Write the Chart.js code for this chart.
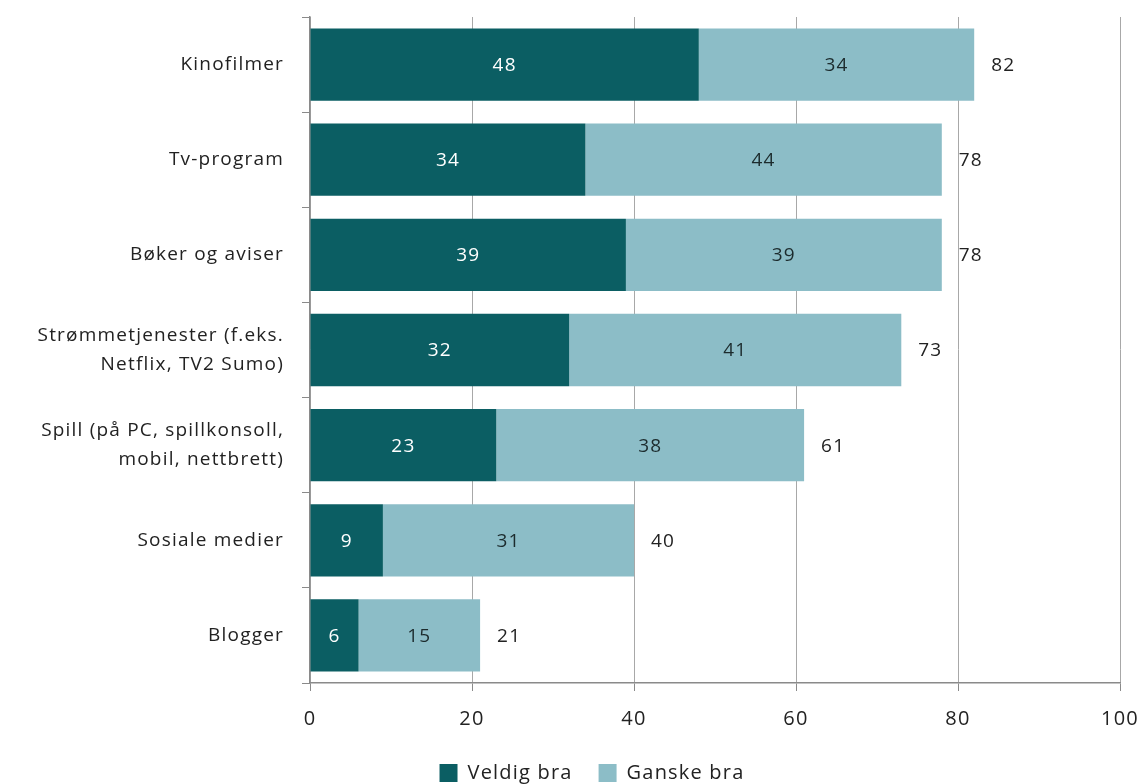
<!DOCTYPE html>
<html>
<head>
<meta charset="utf-8">
<script src="https://cdn.jsdelivr.net/npm/chart.js@4"></script>
<style>
  html, body { margin: 0; padding: 0; background: #fff; }
  #wrap { width: 1146px; height: 784px; }
</style>
</head>
<body>
<div id="wrap"><canvas id="myChart" width="1146" height="784"></canvas></div>
<script>
const categories = [
  'Kinofilmer',
  'Tv-program',
  'Bøker og aviser',
  ['Strømmetjenester (f.eks.', 'Netflix, TV2 Sumo)'],
  ['Spill (på PC, spillkonsoll,', 'mobil, nettbrett)'],
  'Sosiale medier',
  'Blogger'
];
const veldigBra = [48, 34, 39, 32, 23, 9, 6];
const ganskeBra = [34, 44, 39, 41, 38, 31, 15];
const totals = [82, 78, 78, 73, 61, 40, 21];
const xTicks = [0, 20, 40, 60, 80, 100];

const FONT = "'Open Sans', 'Noto Sans', sans-serif";
const SPACING = '1.2px';

// litt sperret tekst, som i originalen
const spacingPlugin = {
  id: 'spacing',
  beforeLayout(chart) { chart.ctx.letterSpacing = SPACING; },
  beforeDraw(chart) { chart.ctx.letterSpacing = SPACING; },
  afterLayout(chart) {
    // forklaringen står midt under plottet, ikke midt på lerretet
    chart.legend.left += 32;
    chart.legend.right += 32;
  }
};

// tall inne i søylene og totalsum etter søylene
const labelPlugin = {
  id: 'labels',
  afterDatasetsDraw(chart) {
    const ctx = chart.ctx;
    const xs = chart.scales.x;
    ctx.save();
    ctx.letterSpacing = SPACING;
    ctx.font = '19px ' + FONT;
    ctx.textBaseline = 'middle';
    chart.data.datasets.forEach((ds, di) => {
      const meta = chart.getDatasetMeta(di);
      meta.data.forEach((bar, i) => {
        ctx.fillStyle = di === 0 ? '#ffffff' : '#1c2b2d';
        ctx.textAlign = 'center';
        const left = Math.min(bar.base, bar.x);
        const right = Math.max(bar.base, bar.x);
        ctx.fillText(String(ds.data[i]), (left + right) / 2, bar.y + 1);
      });
    });
    const meta0 = chart.getDatasetMeta(0);
    totals.forEach((t, i) => {
      ctx.fillStyle = '#222222';
      ctx.textAlign = 'left';
      ctx.fillText(String(t), xs.getPixelForValue(t) + 17, meta0.data[i].y + 1);
    });
    ctx.restore();
  }
};

new Chart(document.getElementById('myChart'), {
  type: 'bar',
  data: {
    labels: categories,
    datasets: [
      {
        label: 'Veldig bra',
        data: veldigBra,
        backgroundColor: '#0b5e63',
        borderWidth: 0
      },
      {
        label: 'Ganske bra',
        data: ganskeBra,
        backgroundColor: '#8cbdc7',
        borderWidth: 0
      }
    ]
  },
  options: {
    indexAxis: 'y',
    responsive: false,
    animation: false,
    layout: { padding: { top: 17, right: 26, left: 0, bottom: -9 } },
    barPercentage: 0.76,
    categoryPercentage: 1,
    plugins: {
      legend: {
        position: 'bottom',
        labels: {
          font: { family: FONT, size: 20 },
          color: '#222',
          boxWidth: 18,
          boxHeight: 18,
          padding: 26,
          useBorderRadius: false
        }
      },
      tooltip: { enabled: false }
    },
    scales: {
      x: {
        stacked: true,
        min: 0,
        max: 100,
        afterBuildTicks(scale) {
          scale.ticks = xTicks.map(v => ({ value: v }));
        },
        afterFit(scale) {
          scale.height = 54;
          scale.paddingLeft = 0;
          scale.paddingRight = 0;
        },
        grid: {
          color: '#a8a8a8',
          lineWidth: 1,
          borderDash: [1, 2],
          drawTicks: true,
          tickLength: 8,
          tickColor: '#8a8a8a',
          tickBorderDash: []
        },
        border: { display: true, color: '#8a8a8a', width: 1.5 },
        ticks: {
          font: { family: FONT, size: 20 },
          color: '#222',
          padding: 16
        }
      },
      y: {
        stacked: true,
        offset: true,
        afterFit(scale) {
          scale.width = 310;
          scale.paddingTop = 0;
          scale.paddingBottom = 0;
        },
        grid: {
          offset: true,
          drawOnChartArea: false,
          drawTicks: true,
          tickLength: 8,
          color: '#8a8a8a'
        },
        border: { display: true, color: '#8a8a8a', width: 1.5 },
        ticks: {
          font: { family: FONT, size: 19, lineHeight: 1.5 },
          color: '#222',
          padding: 18
        }
      }
    }
  },
  plugins: [spacingPlugin, labelPlugin]
});
</script>
</body>
</html>
